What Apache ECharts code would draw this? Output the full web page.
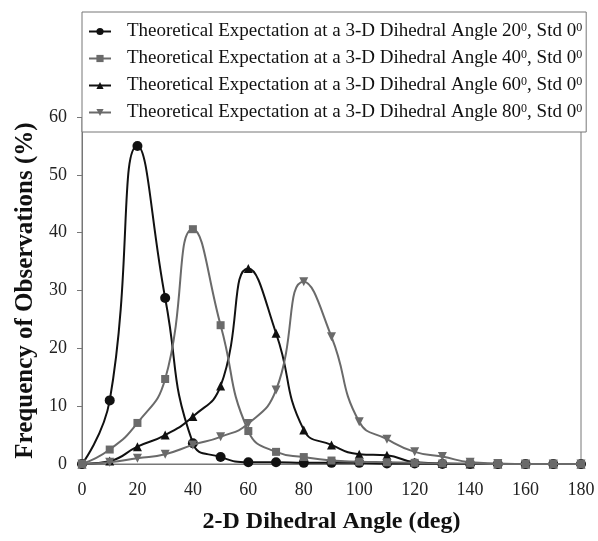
<!DOCTYPE html>
<html><head><meta charset="utf-8">
<script src="https://cdn.jsdelivr.net/npm/echarts@6/dist/echarts.min.js"></script>
<style>html,body{margin:0;padding:0;background:#fff}#c{width:598px;height:541px}</style>
</head><body><div id="c"></div>
<script>
const angles = [0,10,20,30,40,50,60,70,80,90,100,110,120,130,140,150,160,170,180];
const s20 = [0, 11, 55, 28.7, 3.6, 1.2, 0.3, 0.3, 0.2, 0.2, 0.2, 0.1, 0.1, 0, 0, 0, 0, 0, 0];
const s40 = [0, 2.5, 7.1, 14.7, 40.6, 24.0, 5.7, 2.1, 1.2, 0.6, 0.4, 0.3, 0.2, 0.1, 0.1, 0, 0, 0, 0];
const s60 = [0, 0.5, 3.0, 5.0, 8.2, 13.5, 33.8, 22.6, 5.9, 3.3, 1.7, 1.5, 0.3, 0.1, 0, 0, 0, 0, 0];
const s80 = [0, 0.3, 1.0, 1.7, 3.3, 4.7, 7.0, 12.8, 31.5, 22.0, 7.3, 4.3, 2.1, 1.3, 0.3, 0.1, 0, 0, 0];
const seriesNames = ['a20','a40','a60','a80'];
const legendDeg = ['20','40','60','80'];
const xTitle = '2-D Dihedral Angle (deg)';
const yTitle = 'Frequency of Observations (%)';

const FONT = '"Liberation Serif","Times New Roman",serif';
const BLACK = '#111111', GRAY = '#6a6a6a';
const zip = a => angles.map((x,i)=>[x,a[i]]);
const defs = [
  {d:s20, color:BLACK, symbol:'circle', size:10, rot:0, z:2},
  {d:s40, color:GRAY, symbol:'rect', size:8, rot:0, z:5},
  {d:s60, color:BLACK, symbol:'triangle', size:9, rot:0, z:3},
  {d:s80, color:GRAY, symbol:'triangle', size:9, rot:180, z:4}
];
const series = defs.map((s,i)=>({
  name: seriesNames[i], type:'line', data: zip(s.d), smooth:0.5,
  symbol:s.symbol, symbolSize:s.size, symbolRotate:s.rot, showAllSymbol:true,
  lineStyle:{color:s.color, width:2}, itemStyle:{color:s.color},
  z: s.z
}));
const chart = echarts.init(document.getElementById('c'), null, {renderer:'canvas'});
chart.setOption({
  animation:false,
  backgroundColor:'#fff',
  grid:{left:82, right:17, top:117, bottom:77, show:true, borderColor:'#777', borderWidth:1, backgroundColor:'transparent'},
  legend:{
    orient:'vertical', left:82, top:12,
    padding:[10,4,10,6], itemGap:8, itemWidth:22, itemHeight:9,
    backgroundColor:'#fff', borderColor:'#777', borderWidth:1,
    data: seriesNames,
    formatter: n => { const i = seriesNames.indexOf(n); return 'Theoretical Expectation at a 3-D Dihedral Angle ' + legendDeg[i] + '{s|0}, Std 0{s|0}'; },
    textStyle:{fontFamily:FONT, fontSize:19, lineHeight:19, color:'#111', padding:[0,0,0,11],
      rich:{s:{fontFamily:FONT, fontSize:12, verticalAlign:'top', padding:[0,0,7,0], color:'#111'}}},
    z:10
  },
  xAxis:{type:'value', min:0, max:180, interval:20,
    name:xTitle, nameLocation:'middle', nameGap:46,
    nameTextStyle:{fontFamily:FONT, fontSize:24, fontWeight:'bold', color:'#111'},
    axisLine:{lineStyle:{color:'#777', width:1}}, axisTick:{show:false},
    axisLabel:{fontFamily:FONT, fontSize:18, color:'#222', margin:17},
    splitLine:{show:false}},
  yAxis:{type:'value', min:0, max:60, interval:10,
    name:yTitle, nameLocation:'middle', nameGap:44,
    nameTextStyle:{fontFamily:FONT, fontSize:25, fontWeight:'bold', color:'#111'},
    axisLine:{show:true, lineStyle:{color:'#777', width:1}}, axisTick:{show:true, length:5, lineStyle:{color:'#777'}},
    axisLabel:{fontFamily:FONT, fontSize:18, color:'#222', margin:15},
    splitLine:{show:false}},
  series: series
});
</script></body></html>
